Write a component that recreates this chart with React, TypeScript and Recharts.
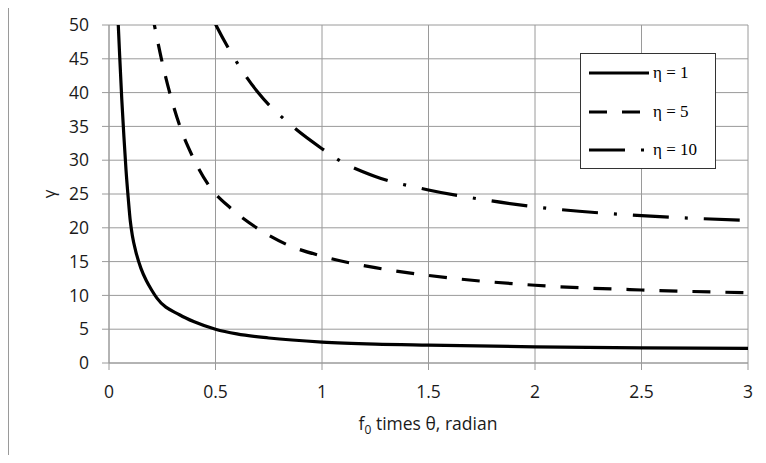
import { LineChart, Line, XAxis, YAxis, CartesianGrid, Legend, Label } from "recharts";

// curve values (gamma vs f0*theta)
const eta1X = [0.04, 0.05, 0.06, 0.07, 0.08, 0.09, 0.1, 0.11, 0.125, 0.15, 0.175, 0.2, 0.225, 0.333, 0.4, 0.5, 0.6, 0.75, 1, 1.25, 1.5, 2, 2.5, 3];
const eta1Y = [52.5, 45.5, 39, 33.5, 28.5, 24.5, 21, 18.8, 16.6, 14, 12.2, 10.8, 9.6, 7.1, 6.1, 5.0, 4.3, 3.7, 3.1, 2.8, 2.65, 2.4, 2.25, 2.15];

const eta5X = [0.2, 0.213, 0.246, 0.285, 0.333, 0.39, 0.47, 0.575, 0.7, 0.84, 1, 1.25, 1.5, 2, 2.5, 3];
const eta5Y = [52, 50, 45, 40, 35, 30.7, 26.2, 22.8, 19.85, 17.45, 15.8, 14.1, 12.95, 11.5, 10.8, 10.4];

const eta10X = [0.48, 0.502, 0.59, 0.7, 0.862, 1, 1.075, 1.25, 1.5, 1.75, 2, 2.5, 3];
const eta10Y = [51.4, 50, 45, 40, 35, 31.7, 30.1, 27.6, 25.6, 24.2, 23.1, 21.8, 21.1];

const seriesNames = ["η = 1", "η = 5", "η = 10"];
const xTicks = [0, 0.5, 1, 1.5, 2, 2.5, 3];
const yTicks = [0, 5, 10, 15, 20, 25, 30, 35, 40, 45, 50];

const toRows = (xs: number[], ys: number[]) => xs.map((x, i) => ({ x, y: ys[i] }));

const series = [
  { name: seriesNames[0], data: toRows(eta1X, eta1Y), dash: undefined },
  { name: seriesNames[1], data: toRows(eta5X, eta5Y), dash: "18 15" },
  { name: seriesNames[2], data: toRows(eta10X, eta10Y), dash: "36 16 3 16" },
];

const grey = "#9a9a9a";
const tickFont = { fill: "#1a1a1a", fontSize: 17.5, fontFamily: "Open Sans" };

function LegendBox() {
  return (
    <div
      style={{
        width: 136,
        height: 116,
        boxSizing: "border-box",
        border: "1px solid #333",
        background: "#fff",
        paddingLeft: 8,
      }}
    >
      {series.map((s) => (
        <div key={s.name} style={{ height: 38.5, display: "flex", alignItems: "center" }}>
          <svg width={60} height={6} style={{ display: "block" }}>
            <line x1={0} y1={3} x2={60} y2={3} stroke="#000" strokeWidth={3.2} strokeDasharray={s.dash} />
          </svg>
          <span
            style={{
              marginLeft: 4,
              fontFamily: "Liberation Serif",
              fontSize: 17,
              color: "#000",
              whiteSpace: "nowrap",
            }}
          >
            {s.name}
          </span>
        </div>
      ))}
    </div>
  );
}

export default function App() {
  return (
    <div style={{ position: "relative", width: 766, height: 463, margin: -8, overflow: "hidden", background: "#fff" }}>
      <div
        style={{
          position: "absolute",
          left: 8,
          top: 3,
          width: 900,
          height: 900,
          borderLeft: `1px solid ${grey}`,
          borderTop: `1px solid ${grey}`,
        }}
      />
      <div style={{ position: "absolute", left: 0, top: 0 }}>
        <LineChart width={766} height={463} margin={{ top: 25, right: 18, bottom: 60, left: 0 }}>
          <CartesianGrid stroke={grey} strokeWidth={1} />
          <XAxis
            type="number"
            dataKey="x"
            domain={[0, 3]}
            ticks={xTicks}
            height={40}
            tickSize={7}
            tickMargin={16}
            tick={tickFont}
            stroke={grey}
            allowDuplicatedCategory={false}
          >
            <Label
              content={() => (
                <text x={428} y={430} textAnchor="middle" fill="#1a1a1a" fontFamily="Open Sans" fontSize={17.5}>
                  <tspan>f</tspan>
                  <tspan dy={4} fontSize={12}>0</tspan>
                  <tspan dy={-4}> times θ, radian</tspan>
                </text>
              )}
            />
          </XAxis>
          <YAxis
            type="number"
            dataKey="y"
            domain={[0, 50]}
            ticks={yTicks}
            allowDataOverflow
            width={109}
            tickSize={7}
            tickMargin={13}
            tick={tickFont}
            stroke={grey}
          >
            <Label
              content={() => (
                <text
                  x={55}
                  y={194}
                  textAnchor="middle"
                  fill="#1a1a1a"
                  fontFamily="Open Sans"
                  fontSize={17}
                  transform="rotate(-90 55 194)"
                >
                  γ
                </text>
              )}
            />
          </YAxis>
          <Legend
            layout="horizontal"
            verticalAlign="middle"
            align="center"
            content={() => <LegendBox />}
            wrapperStyle={{ left: 580, top: 53, width: 136, height: 116 }}
          />
          {series.map((s) => (
            <Line
              key={s.name}
              name={s.name}
              data={s.data}
              dataKey="y"
              type="monotone"
              stroke="#000"
              strokeWidth={3.2}
              strokeDasharray={s.dash}
              dot={false}
              activeDot={false}
              isAnimationActive={false}
            />
          ))}
        </LineChart>
      </div>
    </div>
  );
}
